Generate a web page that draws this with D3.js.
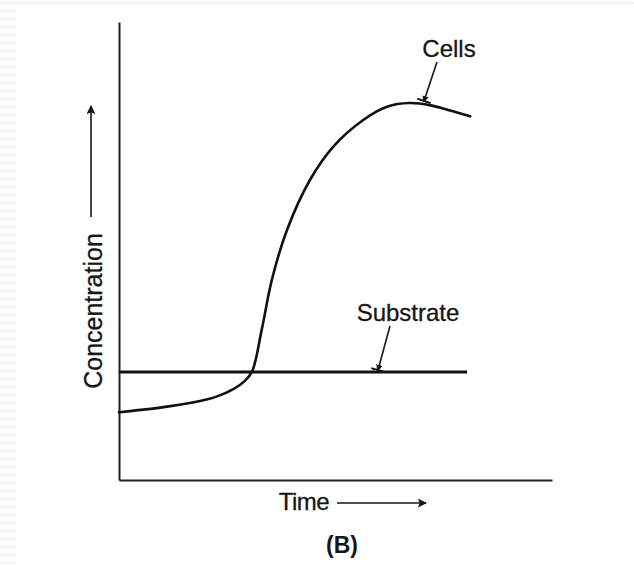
<!DOCTYPE html>
<html>
<head>
<meta charset="utf-8">
<script src="https://cdn.jsdelivr.net/npm/d3@7"></script>
<style>
  html, body { margin: 0; padding: 0; background: #fff; }
  svg text { font-family: "Liberation Sans", Arial, Helvetica, sans-serif; fill: #161616; }
</style>
</head>
<body>
<div id="chart"></div>
<script>
// time / concentration in arbitrary units (0..100)
const cellTime = [0, 9.5, 17.0, 22.5, 26.5, 29.0, 30.7, 33.0, 35.3, 38.8, 44.1, 49.4, 56.4, 61.9, 67.0, 72.0, 76.0, 81.1];
const cellConc = [14.8, 15.8, 16.9, 18.2, 19.9, 21.6, 23.6, 33.0, 43.7, 54.6, 65.5, 72.7, 78.6, 81.5, 82.3, 81.8, 80.8, 79.4];
const substrateTime = [0, 80.4];
const substrateConc = [23.6, 23.6];

const xLabel = "Time";
const yLabel = "Concentration";
const caption = "(B)";

const width = 634, height = 566;
const margin = {left: 119, right: 82, top: 22, bottom: 86};

const svg = d3.select("#chart").append("svg")
  .attr("width", width)
  .attr("height", height);

// faint zigzag border like the scanned page
const defs = svg.append("defs");
const zz = defs.append("pattern")
  .attr("id", "zz").attr("width", 8).attr("height", 8)
  .attr("patternUnits", "userSpaceOnUse");
zz.append("path").attr("d", "M0,4 L2,2 L4,4 L6,2 L8,4")
  .attr("fill", "none").attr("stroke", "#e6e6e6").attr("stroke-width", 1);
svg.append("rect").attr("x", 0).attr("y", 0).attr("width", 16).attr("height", height).attr("fill", "url(#zz)");
svg.append("rect").attr("x", 0).attr("y", 0).attr("width", width).attr("height", 7).attr("fill", "url(#zz)");

const arrowHead = defs.append("marker")
  .attr("id", "head").attr("viewBox", "0 -5 10 10")
  .attr("refX", 9).attr("refY", 0)
  .attr("markerWidth", 9).attr("markerHeight", 9)
  .attr("markerUnits", "userSpaceOnUse")
  .attr("orient", "auto");
arrowHead.append("path").attr("d", "M0,-5 L10,0 L0,5 L2,0 Z").attr("fill", "#161616");

const tee = defs.append("marker")
  .attr("id", "tee").attr("viewBox", "0 -7 6 14")
  .attr("refX", 5).attr("refY", 0)
  .attr("markerWidth", 6).attr("markerHeight", 14)
  .attr("markerUnits", "userSpaceOnUse")
  .attr("orient", "auto");
tee.append("path").attr("d", "M0,-2 L5,0 L0,2 Z M5,-7 L5,7").attr("fill", "#161616").attr("stroke", "#161616").attr("stroke-width", 2);

const x = d3.scaleLinear().domain([0, 100]).range([margin.left, width - margin.right]);
const y = d3.scaleLinear().domain([0, 100]).range([height - margin.bottom, margin.top]);

// axes (no ticks)
svg.append("g")
  .attr("transform", "translate(0," + y(0) + ")")
  .call(d3.axisBottom(x).tickValues([]).tickSizeOuter(0))
  .select(".domain").attr("stroke", "#222").attr("stroke-width", 2);
svg.append("g")
  .attr("transform", "translate(" + x(0) + ",0)")
  .call(d3.axisLeft(y).tickValues([]).tickSizeOuter(0))
  .select(".domain").attr("stroke", "#222").attr("stroke-width", 2);

const line = d3.line()
  .x(d => x(d[0]))
  .y(d => y(d[1]))
  .curve(d3.curveCatmullRom.alpha(0.5));

svg.append("path")
  .datum(d3.zip(substrateTime, substrateConc))
  .attr("d", line)
  .attr("fill", "none")
  .attr("stroke", "#111")
  .attr("stroke-width", 3);

svg.append("path")
  .datum(d3.zip(cellTime, cellConc))
  .attr("d", line)
  .attr("fill", "none")
  .attr("stroke", "#111")
  .attr("stroke-width", 2.6)
  .attr("stroke-linecap", "round");

// curve labels with pointer arrows
const notes = [
  {text: "Cells", tx: 449, ty: 57, from: [437, 62], to: [424, 101]},
  {text: "Substrate", tx: 408, ty: 321, from: [390, 326], to: [378, 370]}
];
notes.forEach(n => {
  svg.append("text")
    .attr("x", n.tx).attr("y", n.ty)
    .attr("text-anchor", "middle")
    .style("font-size", "24px")
    .style("stroke", "#161616").style("stroke-width", 0.3)
    .text(n.text);
  svg.append("line")
    .attr("x1", n.from[0]).attr("y1", n.from[1])
    .attr("x2", n.to[0]).attr("y2", n.to[1])
    .attr("stroke", "#161616").attr("stroke-width", 1.6)
    .attr("marker-end", "url(#tee)");
});

// axis titles
svg.append("text")
  .attr("transform", "translate(102,311) rotate(-90)")
  .attr("text-anchor", "middle")
  .style("font-size", "25px")
  .style("stroke", "#161616").style("stroke-width", 0.3)
  .text(yLabel);
svg.append("line")
  .attr("x1", 91).attr("y1", 217).attr("x2", 91).attr("y2", 106)
  .attr("stroke", "#161616").attr("stroke-width", 1.6)
  .attr("marker-end", "url(#head)");

svg.append("text")
  .attr("x", 304).attr("y", 510)
  .attr("text-anchor", "middle")
  .style("font-size", "24px")
  .style("letter-spacing", "-0.5px")
  .style("stroke", "#161616").style("stroke-width", 0.3)
  .text(xLabel);
svg.append("line")
  .attr("x1", 337).attr("y1", 503).attr("x2", 426).attr("y2", 503)
  .attr("stroke", "#161616").attr("stroke-width", 1.6)
  .attr("marker-end", "url(#head)");

svg.append("text")
  .attr("x", 342).attr("y", 553)
  .attr("text-anchor", "middle")
  .style("font-size", "23px")
  .style("font-weight", "bold")
  .text(caption);
</script>
</body>
</html>
